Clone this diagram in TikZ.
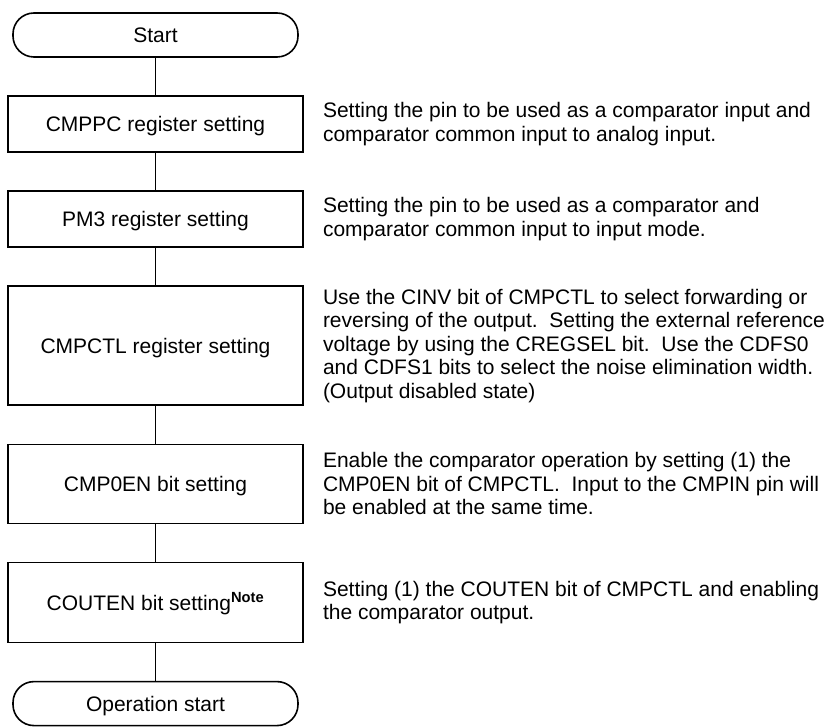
\documentclass[tikz,border=0pt]{standalone}
\usepackage{fontspec}
\setmainfont{Liberation Sans}
\usetikzlibrary{positioning}
\frenchspacing

\begin{document}
\begin{tikzpicture}[x=1pt,y=-1pt,node distance=37.5pt and 16pt,
  term/.style={draw,line width=1.6pt,rounded corners=21pt,minimum width=285pt,
               minimum height=44pt,text height=15pt,text depth=0pt,
               font=\fontsize{21}{23.5}\selectfont},
  proc/.style={draw,line width=1.6pt,minimum width=295pt,
               text height=15pt,text depth=0pt,font=\fontsize{21}{23.5}\selectfont},
  desc/.style={align=left,inner sep=3pt,font=\fontsize{21}{23.5}\selectfont},
  link/.style={line width=1pt}]
\useasboundingbox (0,0) rectangle (836,727);
% flow column
\node[term] (start) at (155.5,35) {Start};
\node[proc,minimum height=56pt,below=of start] (cmppc) {CMPPC register setting};
\node[proc,minimum height=56pt,below=of cmppc] (pm3) {PM3 register setting};
\node[proc,minimum height=119pt,below=of pm3] (cmpctl) {CMPCTL register setting};
\node[proc,minimum height=79pt,below=of cmpctl] (cmp0en) {CMP0EN bit setting};
\node[proc,minimum height=80pt,below=of cmp0en] (couten) {COUTEN bit setting\textsuperscript{\bfseries Note}};
\node[term,below=of couten] (opstart) {Operation start};
% explanations
\node[desc,right=of cmppc] (cmppctxt) {Setting the pin to be used as a comparator input and\\
  comparator common input to analog input.};
\node[desc,right=of pm3] (pm3txt) {Setting the pin to be used as a comparator and\\
  comparator common input to input mode.};
\node[desc,right=of cmpctl] (cmpctltxt) {Use the CINV bit of CMPCTL to select forwarding or\\
  reversing of the output.~ Setting the external reference\\
  voltage by using the CREGSEL bit.~ Use the CDFS0\\
  and CDFS1 bits to select the noise elimination width.\\
  (Output disabled state)};
\node[desc,right=of cmp0en] (cmp0entxt) {Enable the comparator operation by setting (1) the\\
  CMP0EN bit of CMPCTL.~ Input to the CMPIN pin will\\
  be enabled at the same time.};
\node[desc,right=of couten] (coutentxt) {Setting (1) the COUTEN bit of CMPCTL and enabling\\
  the comparator output.};
% connectors
\draw[link] (start)--(cmppc);
\draw[link] (cmppc)--(pm3);
\draw[link] (pm3)--(cmpctl);
\draw[link] (cmpctl)--(cmp0en);
\draw[link] (cmp0en)--(couten);
\draw[link] (couten)--(opstart);
\end{tikzpicture}
\end{document}
